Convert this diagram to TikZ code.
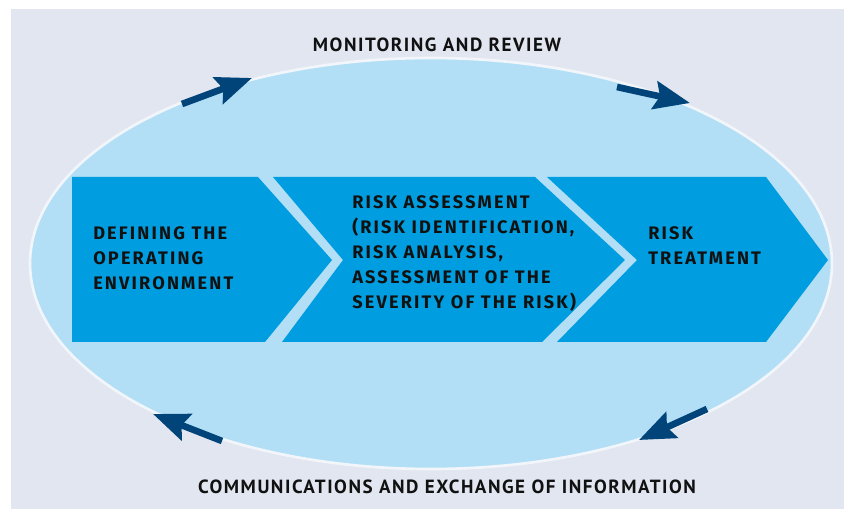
\documentclass[tikz,border=0pt]{standalone}
\usepackage{fontspec}
\setmainfont{Fira Sans}
\newfontfamily\boxfont[LetterSpace=12]{Fira Sans}
\newfontfamily\labelfont[LetterSpace=8]{PT Sans}
\usetikzlibrary{arrows.meta}
\definecolor{bgc}{HTML}{E1E6F0}
\definecolor{ellc}{HTML}{B2DFF6}
\definecolor{boxc}{HTML}{009EE0}
\definecolor{arrc}{HTML}{004479}
\definecolor{rimc}{HTML}{F2F6FB}
\definecolor{txtc}{HTML}{111111}
\tikzset{
  stagebox/.style={fill=boxc},
  cycarrow/.style={arrc, line width=5pt, -{Stealth[length=27pt, width=21pt, inset=4pt]}},
  boxtext/.style={anchor=west, align=left, text=txtc, font=\boxfont\fontsize{13.6}{18.75}\selectfont\bfseries, inner sep=0pt},
  looplabel/.style={text=txtc, font=\labelfont\fontsize{14.3}{16}\selectfont\bfseries, inner sep=0pt}
}
\begin{document}
\begin{tikzpicture}[x=0.75pt,y=-0.75pt]
\useasboundingbox (0,0) rectangle (844,509);
\fill[white] (0,0) rectangle (844,509);
\fill[bgc] (11,9) rectangle (844,509);
\draw[rimc, line width=2pt, fill=ellc] (431,263.5) ellipse [x radius=401, y radius=205.5];
% stages
\fill[stagebox] (72,177) -- (258,177) -- (332,260) -- (265,342) -- (72,342) -- cycle;
\fill[stagebox] (273,177) -- (535,177) -- (625,260) -- (542,342) -- (282,342) -- (343,260) -- cycle;
\fill[stagebox] (547,177) -- (766,177) -- (828,260) -- (766,342) -- (557,342) -- (637,260) -- cycle;
\node[boxtext] (define) at (93,258) {DEFINING THE\\OPERATING\\ENVIRONMENT};
\node[boxtext] (assess) at (352,254) {RISK ASSESSMENT\\(RISK IDENTIFICATION,\\RISK ANALYSIS,\\ASSESSMENT OF THE\\SEVERITY OF THE RISK)};
\node[boxtext] (treat) at (648,246) {RISK\\TREATMENT};
% labels
\node[looplabel] (monitor) at (437,45) {MONITORING AND REVIEW};
\node[looplabel] (comm) at (447,487) {COMMUNICATIONS AND EXCHANGE OF INFORMATION};
% cycle arrows
\coordinate (a1s) at (182,104); \coordinate (a1e) at (252,78);
\coordinate (a2s) at (617,87);  \coordinate (a2e) at (690,103);
\coordinate (a3s) at (707,409); \coordinate (a3e) at (639,440);
\coordinate (a4s) at (222,441); \coordinate (a4e) at (153,414);
\draw[cycarrow] (a1s) -- (a1e);
\draw[cycarrow] (a2s) -- (a2e);
\draw[cycarrow] (a3s) -- (a3e);
\draw[cycarrow] (a4s) -- (a4e);
\end{tikzpicture}
\end{document}
